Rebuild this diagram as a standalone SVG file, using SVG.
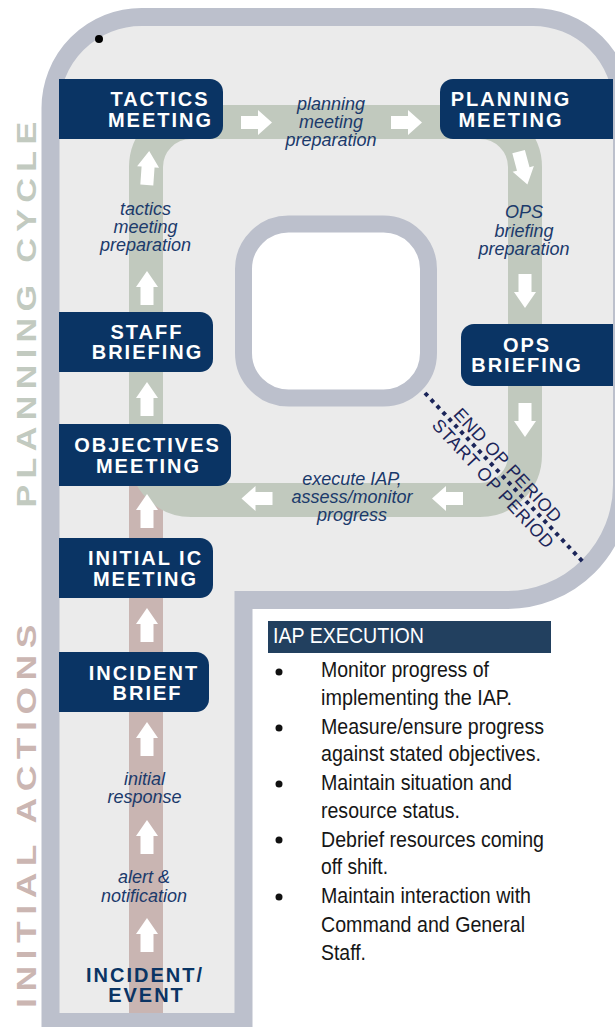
<svg xmlns="http://www.w3.org/2000/svg" width="615" height="1027" viewBox="0 0 615 1027">
<style>
.node{fill:#0A3464}
.nt{font-family:"Liberation Sans",Arial,sans-serif;font-weight:bold;font-size:20px;fill:#fff;letter-spacing:2px;text-anchor:middle}
.lbl{font-family:"Liberation Sans",Arial,sans-serif;font-style:italic;font-size:18px;fill:#1B3A6B;text-anchor:middle}
.arr{fill:#fff}
.vt{font-family:"Liberation Sans",Arial,sans-serif;font-weight:bold;font-size:27px;letter-spacing:5px}
.op{font-family:"Liberation Sans",Arial,sans-serif;font-size:18px;fill:#1B2559;letter-spacing:0.5px}
.bt{font-family:"Liberation Sans Narrow","Liberation Sans",Arial,sans-serif;font-size:22px;fill:#161616}
</style>
<defs>
<path id="ua" d="M0,-17 L11,-1 L6.5,-1 L6.5,17 L-6.5,17 L-6.5,-1 L-11,-1 Z"/>
<path id="ra" d="M15.5,0 L1.5,-12.5 L1.5,-6.5 L-15.5,-6.5 L-15.5,6.5 L1.5,6.5 L1.5,12.5 Z"/>
</defs>
<rect width="615" height="1027" fill="#fff"/>
<g id="frame">
<path d="M50.5,1022 V108 A91,91 0 0 1 141.5,17 H533 A89,89 0 0 1 622,106 V485 A115,115 0 0 1 507,600 H243.5 V1022 Z" fill="#EBEBEB" stroke="#BCC0CC" stroke-width="18"/>
<rect x="243.5" y="224" width="185" height="174" rx="45" fill="#fff" stroke="#BCC0CC" stroke-width="17"/>
<circle cx="99" cy="39" r="4" fill="#000"/>
</g>
<g id="side-labels">
<text class="vt" fill="#C2CAC0" transform="translate(35.5,311.5) rotate(-90)" text-anchor="middle" textLength="392" lengthAdjust="spacingAndGlyphs">PLANNING CYCLE</text>
<text class="vt" fill="#CBB6B2" transform="translate(35.5,813) rotate(-90)" text-anchor="middle" textLength="390" lengthAdjust="spacingAndGlyphs">INITIAL ACTIONS</text>
</g>
<g id="connectors">
<rect x="129" y="486" width="34" height="527" fill="#C9B5B2"/>
<rect x="146" y="122" width="379" height="378" rx="45" fill="none" stroke="#C1C9BE" stroke-width="34"/>
<use href="#ua" class="arr" transform="translate(148,168) rotate(4)"/>
<use href="#ua" class="arr" transform="translate(147,288)"/>
<use href="#ua" class="arr" transform="translate(147,399)"/>
<use href="#ua" class="arr" transform="translate(147,511)"/>
<use href="#ua" class="arr" transform="translate(147,625)"/>
<use href="#ua" class="arr" transform="translate(147,739)"/>
<use href="#ua" class="arr" transform="translate(147,837)"/>
<use href="#ua" class="arr" transform="translate(147,935)"/>
<use href="#ra" class="arr" transform="translate(256.5,122.5)"/>
<use href="#ra" class="arr" transform="translate(406.5,122.5)"/>
<use href="#ua" class="arr" transform="translate(523,168) rotate(165)"/>
<use href="#ua" class="arr" transform="translate(525,291) rotate(180)"/>
<use href="#ua" class="arr" transform="translate(525,420) rotate(180)"/>
<use href="#ra" class="arr" transform="translate(447.5,498.5) rotate(180)"/>
<use href="#ra" class="arr" transform="translate(257,498.5) rotate(180)"/>
</g>
<g id="edge-labels">
<text class="lbl"><tspan x="331" y="110">planning</tspan><tspan x="331" y="128">meeting</tspan><tspan x="331" y="146">preparation</tspan></text>
<text class="lbl"><tspan x="145.5" y="215">tactics</tspan><tspan x="145.5" y="233">meeting</tspan><tspan x="145.5" y="251">preparation</tspan></text>
<text class="lbl"><tspan x="524" y="218">OPS</tspan><tspan x="524" y="236.5">briefing</tspan><tspan x="524" y="255">preparation</tspan></text>
<text class="lbl"><tspan x="352" y="485">execute IAP,</tspan><tspan x="352" y="503">assess/monitor</tspan><tspan x="352" y="521">progress</tspan></text>
<text class="lbl"><tspan x="144.5" y="785">initial</tspan><tspan x="144.5" y="803">response</tspan></text>
<text class="lbl"><tspan x="144" y="883">alert &amp;</tspan><tspan x="144" y="902">notification</tspan></text>
</g>
<g id="op-period">
<line x1="425" y1="393" x2="583" y2="562" stroke="#1B2559" stroke-width="4" stroke-dasharray="4 4.7"/>
<text class="op" transform="translate(452.5,415) rotate(47)">END OP PERIOD</text>
<text class="op" transform="translate(431,426) rotate(47)">START OP PERIOD</text>
</g>
<g id="node-tactics"><path class="node" d="M59,79 H210 A13,13 0 0 1 223,92 V126 A13,13 0 0 1 210,139 H59 Z"/><text class="nt"><tspan x="160" y="106">TACTICS</tspan><tspan x="160.5" y="127">MEETING</tspan></text></g>
<g id="node-planning"><path class="node" d="M613,79 H453 A13,13 0 0 0 440,92 V126 A13,13 0 0 0 453,139 H613 Z"/><text class="nt"><tspan x="511" y="106">PLANNING</tspan><tspan x="511" y="127">MEETING</tspan></text></g>
<g id="node-ops"><path class="node" d="M613,324 H474 A13,13 0 0 0 461,337 V373 A13,13 0 0 0 474,386 H613 Z"/><text class="nt"><tspan x="527" y="352">OPS</tspan><tspan x="527" y="372">BRIEFING</tspan></text></g>
<g id="node-staff"><path class="node" d="M59,312 H200 A13,13 0 0 1 213,325 V359 A13,13 0 0 1 200,372 H59 Z"/><text class="nt"><tspan x="147" y="339">STAFF</tspan><tspan x="147.5" y="359">BRIEFING</tspan></text></g>
<g id="node-objectives"><path class="node" d="M59,424 H218 A13,13 0 0 1 231,437 V473 A13,13 0 0 1 218,486 H59 Z"/><text class="nt"><tspan x="147.5" y="452">OBJECTIVES</tspan><tspan x="148.5" y="473">MEETING</tspan></text></g>
<g id="node-initial-ic"><path class="node" d="M59,538 H200 A13,13 0 0 1 213,551 V585 A13,13 0 0 1 200,598 H59 Z"/><text class="nt"><tspan x="145.5" y="565">INITIAL IC</tspan><tspan x="145.5" y="586">MEETING</tspan></text></g>
<g id="node-incident-brief"><path class="node" d="M59,652 H196 A13,13 0 0 1 209,665 V699 A13,13 0 0 1 196,712 H59 Z"/><text class="nt"><tspan x="144" y="680">INCIDENT</tspan><tspan x="147.5" y="700">BRIEF</tspan></text></g>
<g id="node-incident-event"><text class="nt" style="fill:#0A3464"><tspan x="145" y="982">INCIDENT/</tspan><tspan x="146.5" y="1002">EVENT</tspan></text></g>
<g id="iap-execution">
<rect x="268" y="621" width="283" height="32" fill="#22405F"/>
<text class="bt" x="273" y="643" style="fill:#fff" textLength="151" lengthAdjust="spacingAndGlyphs">IAP EXECUTION</text>
<g fill="#111">
<circle cx="279" cy="672" r="3.5"/><circle cx="279" cy="728" r="3.5"/><circle cx="279" cy="784" r="3.5"/><circle cx="279" cy="840" r="3.5"/><circle cx="279" cy="897" r="3.5"/>
</g>
<text class="bt" x="321" y="677" textLength="168" lengthAdjust="spacingAndGlyphs">Monitor progress of</text>
<text class="bt" x="321" y="705" textLength="191" lengthAdjust="spacingAndGlyphs">implementing the IAP.</text>
<text class="bt" x="321" y="734" textLength="223" lengthAdjust="spacingAndGlyphs">Measure/ensure progress</text>
<text class="bt" x="321" y="761" textLength="220" lengthAdjust="spacingAndGlyphs">against stated objectives.</text>
<text class="bt" x="321" y="790" textLength="191" lengthAdjust="spacingAndGlyphs">Maintain situation and</text>
<text class="bt" x="321" y="818" textLength="139" lengthAdjust="spacingAndGlyphs">resource status.</text>
<text class="bt" x="321" y="847" textLength="223" lengthAdjust="spacingAndGlyphs">Debrief resources coming</text>
<text class="bt" x="321" y="874" textLength="67" lengthAdjust="spacingAndGlyphs">off shift.</text>
<text class="bt" x="321" y="903" textLength="210" lengthAdjust="spacingAndGlyphs">Maintain interaction with</text>
<text class="bt" x="321" y="932" textLength="204" lengthAdjust="spacingAndGlyphs">Command and General</text>
<text class="bt" x="321" y="960" textLength="45" lengthAdjust="spacingAndGlyphs">Staff.</text>
</g>
</svg>
